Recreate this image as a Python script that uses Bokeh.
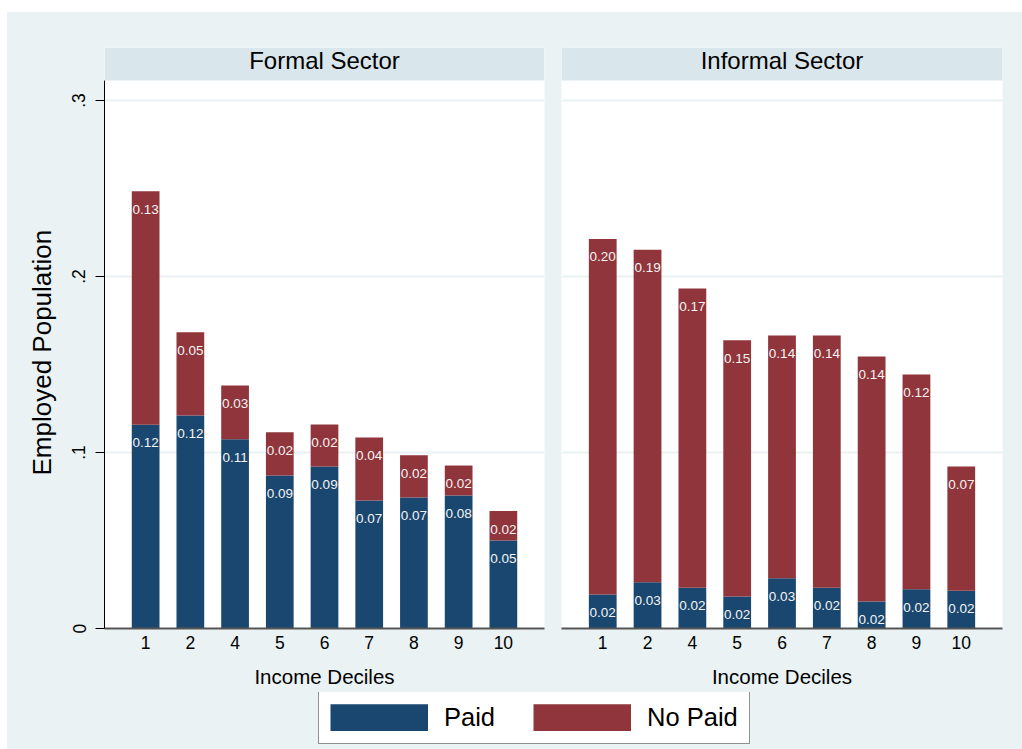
from bokeh.plotting import figure
from bokeh.models import (Range1d, FixedTicker, Label, Legend, LegendItem,
                          Spacer, ColumnDataSource, BoxAnnotation, Title)
from bokeh.layouts import column, row
from bokeh.embed import file_html
from bokeh.resources import INLINE
from bokeh.core.properties import value

# ---------------- data ----------------
deciles = ["1", "2", "4", "5", "6", "7", "8", "9", "10"]
formal_paid = [0.1158, 0.1210, 0.1076, 0.0870, 0.0920, 0.0727, 0.0744, 0.0756, 0.0500]
formal_nopaid = [0.1326, 0.0474, 0.0305, 0.0245, 0.0239, 0.0358, 0.0241, 0.0170, 0.0167]
informal_paid = [0.0193, 0.0263, 0.0231, 0.0182, 0.0286, 0.0231, 0.0153, 0.0223, 0.0214]
informal_nopaid = [0.2021, 0.1889, 0.1701, 0.1456, 0.1379, 0.1434, 0.1392, 0.1220, 0.0706]
panel_titles = ["Formal Sector", "Informal Sector"]
series_names = ["Paid", "No Paid"]
y_ticks = [0, 0.1, 0.2, 0.3]
y_tick_labels = ["0", ".1", ".2", ".3"]
x_title = "Income Deciles"
y_title = "Employed Population"

# ---------------- style ----------------
FONT = "Liberation Sans"
BG = "#eaf2f3"
STRIP = "#d9e6eb"
PAID = "#1a476f"
NOPAID = "#90353b"

xpos = list(range(len(deciles)))
XR = (-0.92, len(deciles) - 1 + 0.92)
YMAX = 0.3114          # top of the plotting region
YTOP = 0.33015         # top of the title strip


def panel(paid, nopaid, title, width, mbl, mbr, show_y):
    p = figure(width=width, height=680, min_border_left=mbl, min_border_right=mbr,
               min_border_top=35, min_border_bottom=64,
               x_range=Range1d(*XR), y_range=Range1d(0, YTOP),
               output_backend="svg", toolbar_location=None,
               background_fill_color="white", border_fill_color=BG,
               outline_line_color=None)
    total = [a + b for a, b in zip(paid, nopaid)]
    src = ColumnDataSource(dict(
        x=xpos, paid=paid, total=total,
        paid_lbl=[f"{v:.2f}" for v in paid],
        np_lbl=[f"{v:.2f}" for v in nopaid]))
    p.vbar(x="x", bottom=0, top="paid", width=0.62, source=src,
           fill_color=PAID, line_color=None)
    p.vbar(x="x", bottom="paid", top="total", width=0.62, source=src,
           fill_color=NOPAID, line_color=None)
    for col_y, col_t in (("paid", "paid_lbl"), ("total", "np_lbl")):
        p.text(x="x", y=col_y, text=col_t, source=src, y_offset=18,
               text_align="center", text_baseline="middle",
               text_font=value(FONT), text_font_size="13.5px",
               text_color="#f4f4f4")

    # title strip
    p.add_layout(BoxAnnotation(left=XR[0], right=XR[1], bottom=YMAX, top=YTOP,
                               fill_color=STRIP, fill_alpha=1, line_color=None))
    p.add_layout(Label(x=(XR[0] + XR[1]) / 2, y=YMAX + 0.6 * (YTOP - YMAX),
                       text=title, text_align="center", text_baseline="middle",
                       text_font=FONT, text_font_size="24px", text_color="black"))

    p.xgrid.grid_line_color = None
    p.ygrid.ticker = FixedTicker(ticks=[t for t in y_ticks if t > 0])
    p.ygrid.grid_line_color = BG
    p.ygrid.grid_line_width = 2

    xa = p.xaxis[0]
    xa.ticker = FixedTicker(ticks=xpos)
    xa.major_label_overrides = {i: d for i, d in zip(xpos, deciles)}
    xa.major_tick_line_color = None
    xa.minor_tick_line_color = None
    xa.axis_line_color = "#555555"
    xa.axis_line_width = 2
    xa.major_label_text_font = FONT
    xa.major_label_text_font_size = "17.5px"
    xa.major_label_text_color = "black"
    xa.major_label_standoff = 1
    xa.axis_label = x_title
    xa.axis_label_text_font = FONT
    xa.axis_label_text_font_size = "20.5px"
    xa.axis_label_text_font_style = "normal"
    xa.axis_label_text_color = "black"
    xa.axis_label_standoff = 13

    ya = p.yaxis[0]
    if show_y:
        ya.bounds = (0, YMAX)
        ya.ticker = FixedTicker(ticks=y_ticks)
        ya.major_label_overrides = dict(zip(y_ticks, y_tick_labels))
        ya.major_tick_out = 9
        ya.major_tick_in = 0
        ya.major_tick_line_color = "black"
        ya.minor_tick_line_color = None
        ya.axis_line_color = "black"
        ya.axis_line_width = 1
        ya.major_label_orientation = "vertical"
        ya.major_label_text_font = FONT
        ya.major_label_text_font_size = "17.5px"
        ya.major_label_text_color = "black"
        ya.major_label_standoff = 10
        # axis title centred on the plotting region (below the strip)
        p.add_layout(Title(text=y_title, align="left", offset=153, standoff=26,
                           text_font=FONT, text_font_size="26px",
                           text_font_style="normal", text_color="black"), "left")
    else:
        ya.visible = False
    return p


p_left = panel(formal_paid, formal_nopaid, panel_titles[0], 546, 97, 9, True)
p_right = panel(informal_paid, informal_nopaid, panel_titles[1], 469, 8, 20, False)

lf = figure(width=1015, height=57, min_border=0,
            x_range=Range1d(0, 1), y_range=Range1d(0, 1),
            x_axis_location=None, y_axis_location=None,
            output_backend="svg", toolbar_location=None,
            background_fill_color=BG, border_fill_color=BG,
            outline_line_color=None)
lf.xgrid.grid_line_color = None
lf.ygrid.grid_line_color = None
# single-point proxies (draw nothing) that only carry the legend swatch styles
r_paid = lf.line(x=[0], y=[0], line_color=PAID, line_width=27.3, line_cap="butt")
r_np = lf.line(x=[0], y=[0], line_color=NOPAID, line_width=27.3, line_cap="butt")
legend = Legend(items=[LegendItem(label=series_names[0], renderers=[r_paid]),
                       LegendItem(label=series_names[1], renderers=[r_np])],
                orientation="horizontal", location=(311, 5), margin=0,
                glyph_width=98, glyph_height=27, label_standoff=16,
                spacing=38, padding=11,
                label_text_font=FONT, label_text_font_size="25.5px",
                label_text_color="black",
                border_line_color="#222222", border_line_width=1.3,
                background_fill_color="white", background_fill_alpha=1)
lf.add_layout(legend)

inner = column(row(p_left, p_right, styles={"background-color": BG}), lf,
               styles={"background-color": BG})
layout = column(Spacer(height=12), row(Spacer(width=7), inner))

open("out.html", "w").write(file_html(layout, INLINE))
